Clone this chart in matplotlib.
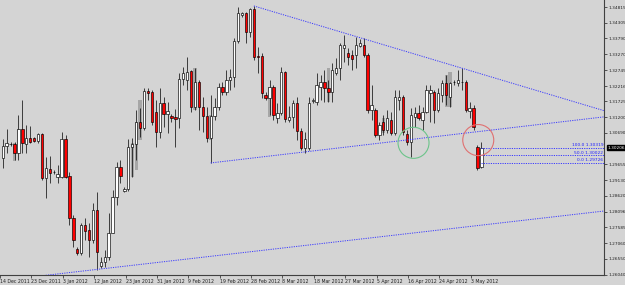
import matplotlib.pyplot as plt
from matplotlib.patches import Ellipse
import numpy as np

# daily candles, bar 0 = 14 Dec 2011
opens = [1.2986, 1.3026, 1.3032, 1.3032, 1.3003, 1.3081, 1.3032, 1.3052, 1.3052, 1.3042,
         1.3065, 1.2921, 1.2950, 1.2940, 1.2924, 1.2924, 1.3049, 1.2927, 1.2789, 1.2688,
         1.2675, 1.2766, 1.2750, 1.2717, 1.2816, 1.2632, 1.2645, 1.2662, 1.2740, 1.2858,
         1.2957, 1.2878, 1.2885, 1.3022, 1.3032, 1.3104, 1.3085, 1.3206, 1.3203, 1.3137,
         1.3072, 1.3167, 1.3131, 1.3124, 1.3121, 1.3118, 1.3245, 1.3242, 1.3272, 1.3154,
         1.3236, 1.3154, 1.3124, 1.3052, 1.3124, 1.3154, 1.3219, 1.3203, 1.3242, 1.3252,
         1.3370, 1.3455, 1.3462, 1.3400, 1.3475, 1.3321, 1.3321, 1.3193, 1.3183, 1.3219,
         1.3118, 1.3134, 1.3268, 1.3111, 1.3121, 1.3167, 1.3075, 1.3019, 1.3019, 1.3173,
         1.3170, 1.3219, 1.3236, 1.3216, 1.3203, 1.3265, 1.3281, 1.3347, 1.3331, 1.3324,
         1.3324, 1.3354, 1.3357, 1.3324, 1.3144, 1.3144, 1.3062, 1.3104, 1.3078, 1.3111,
         1.3068, 1.3177, 1.3186, 1.3065, 1.3039, 1.3121, 1.3134, 1.3111, 1.3137, 1.3200,
         1.3203, 1.3144, 1.3193, 1.3232, 1.3186, 1.3236, 1.3232, 1.3236, 1.3236, 1.3140,
         1.3150, 1.3022, 1.2957]
highs = [1.3049, 1.3081, 1.3039, 1.3039, 1.3127, 1.3177, 1.3095, 1.3091, 1.3055, 1.3068,
         1.3068, 1.2990, 1.2993, 1.2947, 1.2963, 1.3072, 1.3062, 1.2940, 1.2799, 1.2694,
         1.2773, 1.2789, 1.2773, 1.2839, 1.2875, 1.2662, 1.2685, 1.2806, 1.2881, 1.2973,
         1.2980, 1.2891, 1.3049, 1.3052, 1.3144, 1.3150, 1.3216, 1.3216, 1.3209, 1.3177,
         1.3216, 1.3186, 1.3170, 1.3131, 1.3147, 1.3265, 1.3285, 1.3318, 1.3275, 1.3281,
         1.3242, 1.3186, 1.3154, 1.3193, 1.3183, 1.3232, 1.3236, 1.3275, 1.3278, 1.3380,
         1.3482, 1.3465, 1.3465, 1.3478, 1.3485, 1.3350, 1.3331, 1.3203, 1.3242, 1.3226,
         1.3167, 1.3285, 1.3272, 1.3157, 1.3177, 1.3186, 1.3085, 1.3072, 1.3186, 1.3183,
         1.3265, 1.3258, 1.3275, 1.3242, 1.3298, 1.3314, 1.3363, 1.3390, 1.3347, 1.3341,
         1.3383, 1.3377, 1.3380, 1.3331, 1.3226, 1.3150, 1.3104, 1.3127, 1.3144, 1.3137,
         1.3209, 1.3209, 1.3193, 1.3078, 1.3150, 1.3154, 1.3160, 1.3154, 1.3226, 1.3226,
         1.3209, 1.3216, 1.3242, 1.3258, 1.3236, 1.3242, 1.3275, 1.3281, 1.3242, 1.3170,
         1.3160, 1.3029, 1.3039]
lows = [1.2954, 1.3003, 1.3026, 1.2980, 1.2980, 1.3003, 1.3003, 1.3036, 1.3039, 1.3036,
        1.2914, 1.2855, 1.2904, 1.2934, 1.2904, 1.2921, 1.2921, 1.2766, 1.2694, 1.2668,
        1.2668, 1.2717, 1.2662, 1.2707, 1.2619, 1.2626, 1.2629, 1.2652, 1.2740, 1.2832,
        1.2904, 1.2875, 1.2878, 1.2924, 1.2980, 1.3055, 1.3078, 1.3177, 1.3095, 1.3022,
        1.3052, 1.3088, 1.3068, 1.3104, 1.3022, 1.3085, 1.3226, 1.3209, 1.3137, 1.3144,
        1.3078, 1.3072, 1.3039, 1.2970, 1.3111, 1.3144, 1.3193, 1.3193, 1.3209, 1.3219,
        1.3363, 1.3449, 1.3363, 1.3383, 1.3308, 1.3265, 1.3183, 1.3177, 1.3127, 1.3111,
        1.3101, 1.3127, 1.3104, 1.3104, 1.3085, 1.3045, 1.3013, 1.3003, 1.3013, 1.3167,
        1.3160, 1.3177, 1.3170, 1.3170, 1.3170, 1.3258, 1.3242, 1.3301, 1.3291, 1.3275,
        1.3281, 1.3350, 1.3318, 1.3134, 1.3111, 1.3055, 1.3045, 1.3062, 1.3068, 1.3062,
        1.3062, 1.3144, 1.3062, 1.3029, 1.2990, 1.3088, 1.3111, 1.3078, 1.3134, 1.3104,
        1.3101, 1.3137, 1.3170, 1.3160, 1.3154, 1.3226, 1.3222, 1.3209, 1.3137, 1.3118,
        1.3078, 1.2947, 1.2954]
closes = [1.3026, 1.3036, 1.3033, 1.3003, 1.3081, 1.3036, 1.3052, 1.3039, 1.3042, 1.3065,
          1.2921, 1.2954, 1.2937, 1.2941, 1.2934, 1.3049, 1.2924, 1.2789, 1.2717, 1.2675,
          1.2766, 1.2747, 1.2717, 1.2816, 1.2678, 1.2645, 1.2662, 1.2740, 1.2858, 1.2957,
          1.2927, 1.2885, 1.3022, 1.3032, 1.3104, 1.3085, 1.3206, 1.3200, 1.3104, 1.3072,
          1.3167, 1.3131, 1.3140, 1.3118, 1.3114, 1.3245, 1.3265, 1.3268, 1.3154, 1.3236,
          1.3154, 1.3124, 1.3052, 1.3124, 1.3154, 1.3219, 1.3203, 1.3242, 1.3252, 1.3370,
          1.3462, 1.3462, 1.3400, 1.3475, 1.3318, 1.3318, 1.3200, 1.3183, 1.3219, 1.3127,
          1.3134, 1.3268, 1.3114, 1.3121, 1.3167, 1.3075, 1.3019, 1.3049, 1.3167, 1.3177,
          1.3226, 1.3236, 1.3216, 1.3203, 1.3275, 1.3281, 1.3357, 1.3357, 1.3318, 1.3311,
          1.3357, 1.3363, 1.3324, 1.3144, 1.3160, 1.3062, 1.3095, 1.3078, 1.3118, 1.3068,
          1.3186, 1.3186, 1.3072, 1.3039, 1.3127, 1.3134, 1.3118, 1.3137, 1.3209, 1.3209,
          1.3144, 1.3200, 1.3232, 1.3193, 1.3232, 1.3235, 1.3242, 1.3235, 1.3144, 1.3150,
          1.3088, 1.2954, 1.30206]

# grey shadow bars behind some candles
ghost_bar = [3, 4, 20, 33, 34, 35, 49, 53, 68, 83, 97, 113, 114]
ghost_top = [1.3036, 1.3081, 1.2766, 1.3036, 1.3104, 1.3177, 1.3281, 1.3127, 1.3219, 1.3281, 1.3118, 1.3258, 1.3268]
ghost_bot = [1.2977, 1.3003, 1.2675, 1.2924, 1.2947, 1.3045, 1.3144, 1.3045, 1.3121, 1.3170, 1.3068, 1.3154, 1.3154]

date_labels = ["14 Dec 2011", "23 Dec 2011", "3 Jan 2012", "12 Jan 2012", "23 Jan 2012",
               "31 Jan 2012", "9 Feb 2012", "19 Feb 2012", "28 Feb 2012", "8 Mar 2012",
               "18 Mar 2012", "27 Mar 2012", "5 Apr 2012", "16 Apr 2012", "24 Apr 2012",
               "3 May 2012"]
price_ticks = [1.34815, 1.34305, 1.33790, 1.33270, 1.32745, 1.32216, 1.31725, 1.31200,
               1.30690, 1.29655, 1.29130, 1.28620, 1.28096, 1.27585, 1.27060, 1.26550,
               1.26040]
last_price = 1.30206

# trend lines: (bar1, price1, bar2, price2), drawn as rays to the right
trend_lines = [(64, 1.3485, 117, 1.3281),
               (53, 1.2970, 120, 1.3071),
               (8, 1.2597, 120, 1.2763)]

fib_levels = [1.3019, 1.2995, 1.2970]
fib_texts = ["100.0 1.30319", "50.0 1.30022", "0.0 1.29726"]
fib_start = 122

circles = [(104.7, 1.3036, "#6cc48a"), (121.2, 1.3045, "#e07070")]

bg = "#d4d4d4"
fig = plt.figure(figsize=(6.25, 2.85), dpi=100, facecolor=bg)
ax = fig.add_axes([0, 10 / 285, 604 / 625, 275 / 285], facecolor=bg)

x_left, x_right = -0.43, 153.25
y_low, y_high = 1.26024, 1.35045
ax.set_xlim(x_left, x_right)
ax.set_ylim(y_low, y_high)

n = len(opens)
idx = np.arange(n)
o = np.array(opens)
c = np.array(closes)

ax.bar(ghost_bar, np.array(ghost_top) - np.array(ghost_bot), bottom=ghost_bot,
       width=0.8, color="#a6a6a6", zorder=1)

ax.vlines(idx, lows, highs, color="black", lw=0.5, zorder=2)
up = c >= o
body_h = np.maximum(np.abs(c - o), 0.00008)
ax.bar(idx[up], body_h[up], bottom=np.minimum(o, c)[up], width=0.6,
       color="white", edgecolor="black", lw=0.45, zorder=3)
ax.bar(idx[~up], body_h[~up], bottom=np.minimum(o, c)[~up], width=0.6,
       color="#ff0000", edgecolor="black", lw=0.45, zorder=3)

for b1, p1, b2, p2 in trend_lines:
    slope = (p2 - p1) / (b2 - b1)
    ax.plot([b1, x_right], [p1, p1 + slope * (x_right - b1)], ls=(0, (1.2, 1.2)),
            color="#3a3aff", lw=0.7, zorder=4)

for lvl, txt in zip(fib_levels, fib_texts):
    ax.plot([fib_start, x_right], [lvl, lvl], ls=(0, (1.2, 1.2)), color="#3a3aff", lw=0.7, zorder=4)
    ax.text(x_right - 0.2, lvl + 0.0002, txt, ha="right", va="bottom", fontsize=3.2,
            color="#2020ff", zorder=5)

for cx, cy, col in circles:
    ax.add_patch(Ellipse((cx, cy), 7.9, 0.0102, fill=False, edgecolor=col, lw=0.8, zorder=5))

ax.set_xticks([8 * k - 0.7 for k in range(len(date_labels))])
ax.set_xticklabels(date_labels, ha="left", fontsize=3.3, color="#202020")
ax.tick_params(axis="x", length=2, width=0.5, pad=1, colors="#202020")
ax.yaxis.tick_right()
ax.set_yticks(price_ticks)
ax.set_yticklabels(["%.5f" % p for p in price_ticks], fontsize=3.1, color="#202020")
ax.tick_params(axis="y", length=2, width=0.5, pad=1, colors="#202020")

for side in ["top", "left"]:
    ax.spines[side].set_visible(False)
for side in ["right", "bottom"]:
    ax.spines[side].set_color("#404040")
    ax.spines[side].set_linewidth(0.8)

ax.text(1.006, (last_price - y_low) / (y_high - y_low), "%.5f" % last_price,
        transform=ax.transAxes, ha="left", va="center", fontsize=3.1, color="white",
        bbox=dict(boxstyle="square,pad=0.2", fc="black", ec="black"), zorder=6)

fig.savefig("out.png", dpi=100, facecolor=bg)
